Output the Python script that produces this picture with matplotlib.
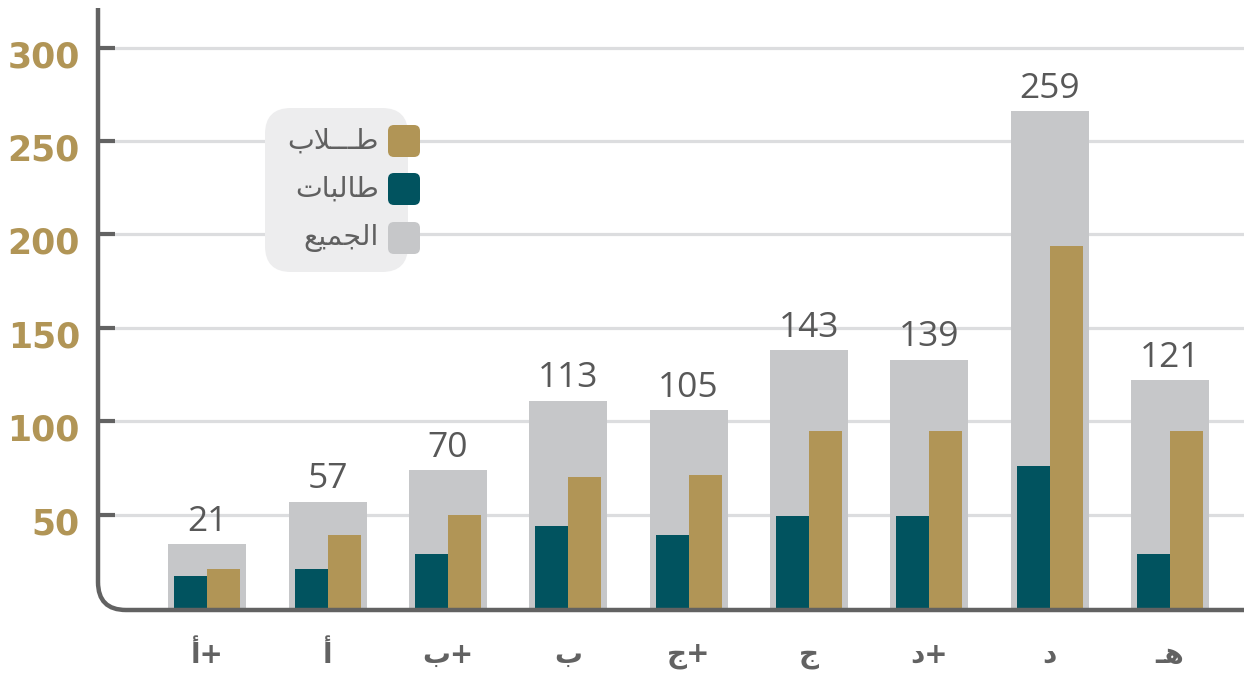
import matplotlib
matplotlib.use('Agg')
import matplotlib.pyplot as plt
from matplotlib.patches import FancyBboxPatch, PathPatch
from matplotlib.path import Path
from matplotlib.transforms import Affine2D, ScaledTranslation, blended_transform_factory
import numpy as np

# ---------------- data ----------------
# grade labels written in visual (left-to-right) order
grades = ['أ+', 'أ', 'ب+', 'ب', 'ج+', 'ج', 'د+', 'د', '\u0640\uFEEB']
total_labels = [21, 57, 70, 113, 105, 143, 139, 259, 121]
all_students = [34, 57, 74, 111, 106, 138, 133, 266, 122]
female = [17, 21, 29, 44, 39, 49, 49, 76, 29]
male = [21, 39, 50, 70, 71, 95, 95, 194, 95]
yticks = [50, 100, 150, 200, 250, 300]
# legend names in visual order (presentation forms): طــلاب ، طالبات ، الجميع
legend_names = ['\uFE8F\uFEFC\u0640\u0640\u0640\uFEC3',
                '\uFE95\uFE8E\uFE92\uFEDF\uFE8E\uFEC3',
                '\uFECA\uFEF4\uFEE4\uFEA0\uFEDF\uFE8D']

GOLD = '#B19556'
TEAL = '#01535F'
GRAY = '#C6C7C9'
AXC = '#626262'
GRID = '#DCDDDF'
TXT = '#585858'

W, H = 1244, 677
fig = plt.figure(figsize=(W / 100, H / 100), dpi=100)
px = Affine2D().scale(1 / W, -1 / H).translate(0, 1) + fig.transFigure

ax = fig.add_axes([98 / W, 1 - 608 / H, (1244 - 98) / W, 600 / H])
x = np.arange(len(grades))
step = 120.3
ax.set_xlim(-(207.4 - 98) / step, -(207.4 - 98) / step + 1146 / step)
ax.set_ylim(0, 600 / 1.868)

ax.bar(x, all_students, width=78 / step, color=GRAY, zorder=2)
ax.bar(x - 16.5 / step, female, width=33 / step, color=TEAL, zorder=3)
ax.bar(x + 16.5 / step, male, width=33 / step, color=GOLD, zorder=3)

for xi, h, lab in zip(x, all_students, total_labels):
    ax.annotate(str(lab), (xi, h), xytext=(0, 9.5), textcoords='offset points',
                ha='center', va='baseline', fontsize=25.5, color=TXT,
                family='Open Sans', zorder=5)

for s in ax.spines.values():
    s.set_visible(False)
ax.set_xticks([])
ax.set_yticks(yticks)
ax.set_yticklabels([str(t) for t in yticks], fontsize=25, fontweight='bold',
                   color=GOLD, family='DejaVu Sans')
ax.tick_params(axis='y', direction='in', length=12, width=3, color=AXC, pad=13)
off = ScaledTranslation(0, -6 / 100, fig.dpi_scale_trans)
for lbl in ax.get_yticklabels():
    lbl.set_transform(lbl.get_transform() + off)
ax.set_axisbelow(True)
ax.grid(axis='y', color=GRID, linewidth=2.3, zorder=0)

bt = blended_transform_factory(ax.transData, ax.transAxes)
for xi, g in zip(x, grades):
    ax.text(xi, -47 / 600, g, transform=bt, ha='center', va='center',
            fontsize=20, fontweight='bold', color=AXC, family='DejaVu Sans')

# axis line with rounded corner
verts = [(98, 8), (98, 582), (98, 610), (126, 610), (1244, 610)]
codes = [Path.MOVETO, Path.LINETO, Path.CURVE3, Path.CURVE3, Path.LINETO]
fig.add_artist(PathPatch(Path(verts, codes), transform=px, fill=False,
                         edgecolor=AXC, linewidth=3.2, capstyle='butt', zorder=4))

# legend
fig.add_artist(FancyBboxPatch((265, 108), 143, 164,
                              boxstyle='round,pad=0,rounding_size=26',
                              transform=px, facecolor='#EDEDEE', edgecolor='none', zorder=5))
for yc, col, name in zip([141, 189, 238], [GOLD, TEAL, GRAY], legend_names):
    fig.add_artist(FancyBboxPatch((388, yc - 16), 32, 32,
                                  boxstyle='round,pad=0,rounding_size=6',
                                  transform=px, facecolor=col, edgecolor='none', zorder=6))
    fig.text(379 / W, 1 - yc / H, name, ha='right', va='center', fontsize=20.5,
             color='#606060', family='DejaVu Sans', zorder=7)

fig.savefig('out.png', dpi=100)
